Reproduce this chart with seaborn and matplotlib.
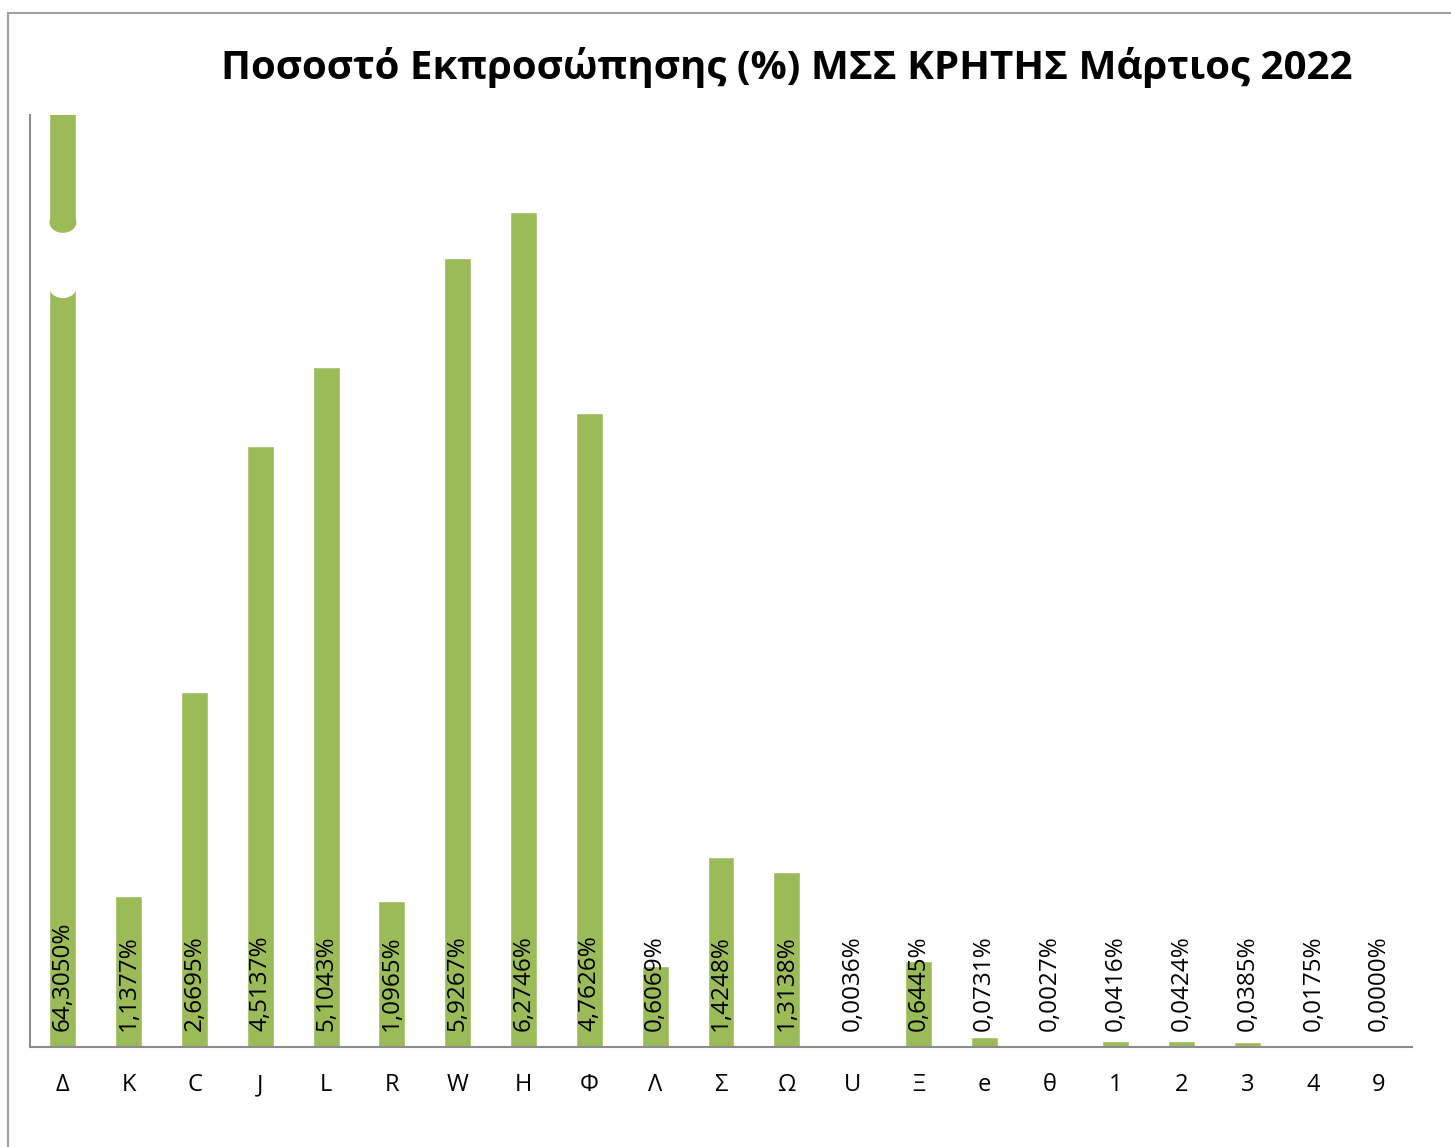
import matplotlib
matplotlib.use("Agg")
import matplotlib.pyplot as plt
from matplotlib.patches import Rectangle, Ellipse
import seaborn as sns

# data
categories = ["Δ", "K", "C", "J", "L", "R", "W", "H", "Φ", "Λ", "Σ", "Ω",
              "U", "Ξ", "e", "θ", "1", "2", "3", "4", "9"]
percent = [64.3050, 1.1377, 2.6695, 4.5137, 5.1043, 1.0965, 5.9267, 6.2746,
           4.7626, 0.6069, 1.4248, 1.3138, 0.0036, 0.6445, 0.0731, 0.0027,
           0.0416, 0.0424, 0.0385, 0.0175, 0.0000]
title = "Ποσοστό Εκπροσώπησης (%) ΜΣΣ ΚΡΗΤΗΣ Μάρτιος 2022"

GREEN = "#9BBB59"
y_max = 7.0
bar_w = 0.41

sns.set_style("white")
plt.rcParams["font.family"] = ["Open Sans", "Noto Sans", "DejaVu Sans"]

fig = plt.figure(figsize=(14.51, 11.47), dpi=100)
ax = fig.add_axes([30 / 1451, 1 - 1047 / 1147, 1382 / 1451, 932 / 1147])

sns.barplot(x=categories, y=percent, order=categories, color=GREEN,
            saturation=1, width=bar_w, ax=ax)

ax.set_ylim(0, y_max)
ax.set_xlim(-0.5, len(categories) - 0.5)

# broken-bar mark on the first (off-scale) bar
brk_lo, brk_hi = y_max * 0.815, y_max * 0.885
ax.add_patch(Rectangle((-0.3, brk_lo), 0.6, brk_hi - brk_lo,
                       facecolor="white", edgecolor="none", zorder=5))
ax.add_patch(Ellipse((0, brk_hi), bar_w, 0.16, facecolor=GREEN,
                     edgecolor="none", zorder=6))
ax.add_patch(Ellipse((0, brk_lo), bar_w, 0.16, facecolor="white",
                     edgecolor="none", zorder=6))

# rotated value labels at the base of every bar
for i, v in enumerate(percent):
    lbl = f"{v:.4f}".replace(".", ",") + "%"
    ax.text(i, 0.12, lbl, rotation=90, ha="center", va="bottom",
            fontsize=17.5, color="black", zorder=7)

ax.set_yticks([])
ax.set_xlabel("")
ax.set_ylabel("")
ax.tick_params(axis="x", length=0, labelsize=17, pad=19, labelcolor="black")
for side in ["top", "right"]:
    ax.spines[side].set_visible(False)
for side in ["left", "bottom"]:
    ax.spines[side].set_color("#8C8C8C")
    ax.spines[side].set_linewidth(1.5)

fig.text(787 / 1451, 1 - 68 / 1147, title, ha="center", va="center",
         fontsize=29, fontweight="bold", color="black")

# chart frame
fig.patches.append(Rectangle((8 / 1451, -0.1), 1.2, 1 - 13 / 1147 + 0.1,
                             transform=fig.transFigure, facecolor="none",
                             edgecolor="#A0A0A0", linewidth=1.5))

fig.savefig("out.png", dpi=100)
